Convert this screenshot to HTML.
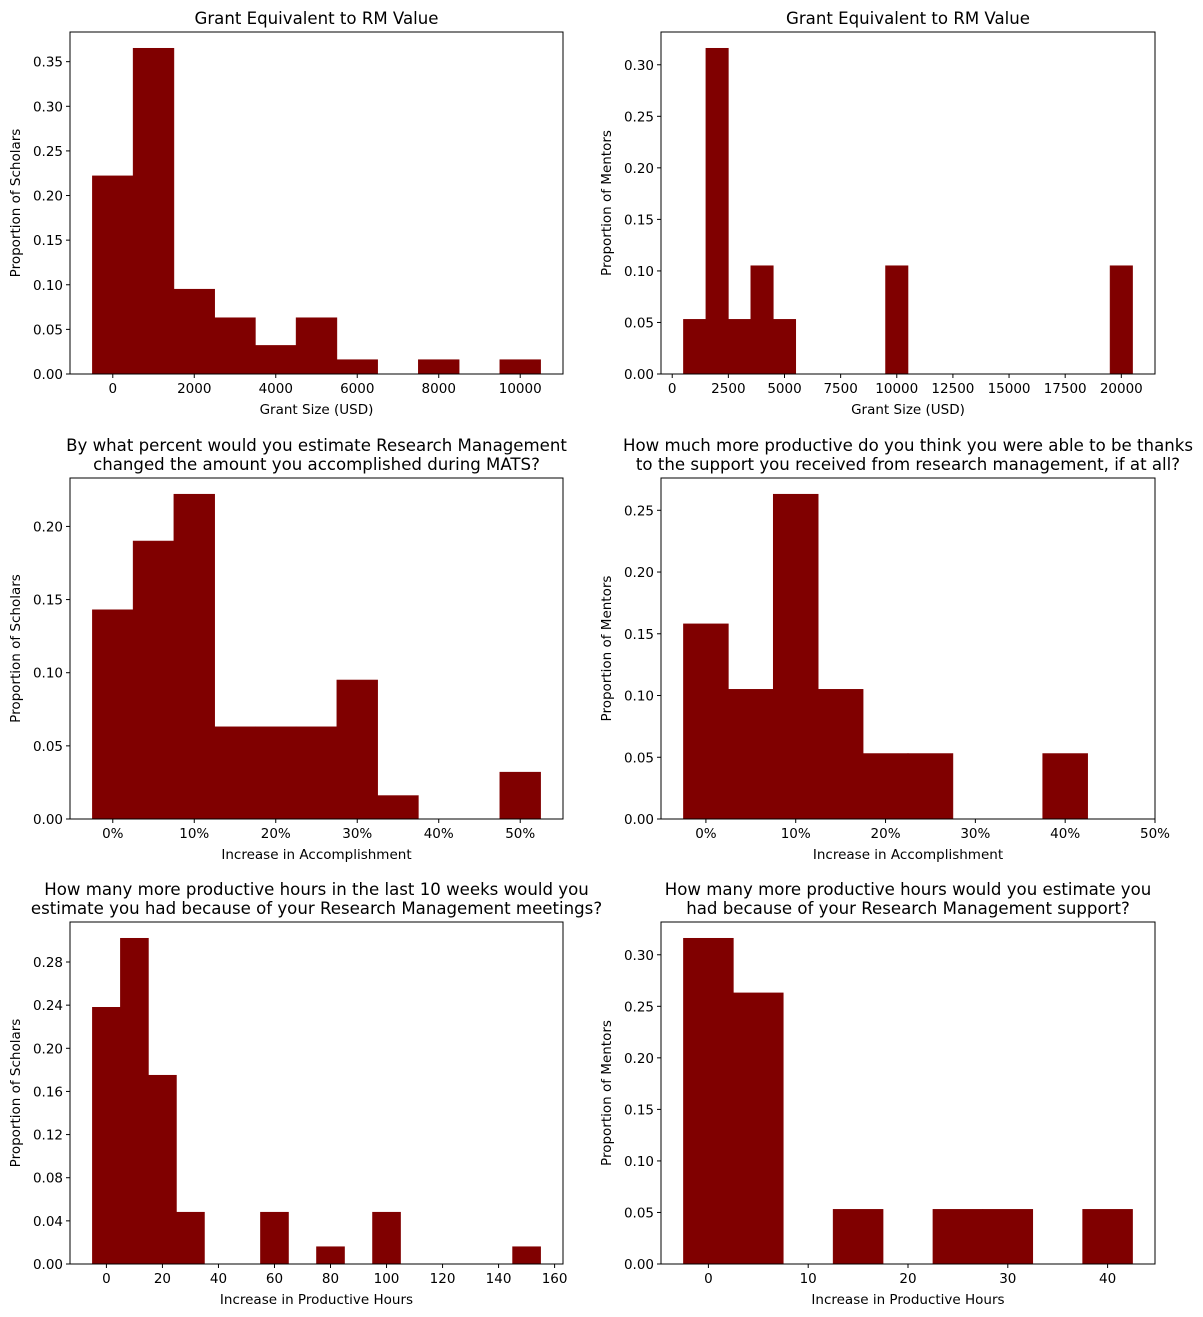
<!DOCTYPE html>
<html><head><meta charset="utf-8"><style>
body{margin:0;background:#fff}
svg{display:block;font-family:"DejaVu Sans","Liberation Sans",sans-serif}
</style></head><body>
<svg id="fig" width="1203" height="1317" viewBox="0 0 1203 1317" xmlns="http://www.w3.org/2000/svg"></svg>
<script>
// ---- data ----
const p1Edges0 = -500, p1Width = 1000;
const p1Values = [0.222,0.365,0.095,0.063,0.032,0.063,0.016,0,0.016,0,0.016];
const p1XTicks = [0,2000,4000,6000,8000,10000];
const p1YTicks = [0,0.05,0.10,0.15,0.20,0.25,0.30,0.35];

const p2Edges0 = 500, p2Width = 1000;
const p2Values = [0.053,0.316,0.053,0.105,0.053,0,0,0,0,0.105,0,0,0,0,0,0,0,0,0,0.105];
const p2XTicks = [0,2500,5000,7500,10000,12500,15000,17500,20000];
const p2YTicks = [0,0.05,0.10,0.15,0.20,0.25,0.30];

const p3Edges0 = -2.5, p3Width = 5;
const p3Values = [0.143,0.190,0.222,0.063,0.063,0.063,0.095,0.016,0,0,0.032];
const p3XTicks = [0,10,20,30,40,50];
const p3YTicks = [0,0.05,0.10,0.15,0.20];

const p4Edges0 = -2.5, p4Width = 5;
const p4Values = [0.158,0.105,0.263,0.105,0.053,0.053,0,0,0.053,0];
const p4XTicks = [0,10,20,30,40,50];
const p4YTicks = [0,0.05,0.10,0.15,0.20,0.25];

const p5Edges0 = -5, p5Width = 10;
const p5Values = [0.238,0.302,0.175,0.048,0,0,0.048,0,0.016,0,0.048,0,0,0,0,0.016];
const p5XTicks = [0,20,40,60,80,100,120,140,160];
const p5YTicks = [0,0.04,0.08,0.12,0.16,0.20,0.24,0.28];

const p6Edges0 = -2.5, p6Width = 5;
const p6Values = [0.316,0.263,0,0.053,0,0.053,0.053,0,0.053];
const p6XTicks = [0,10,20,30,40];
const p6YTicks = [0,0.05,0.10,0.15,0.20,0.25,0.30];

const NS="http://www.w3.org/2000/svg";
const svg=document.getElementById('fig');
function mk(tag,attrs,parent){const e=document.createElementNS(NS,tag);for(const k in attrs)e.setAttribute(k,attrs[k]);(parent||svg).appendChild(e);return e;}

function panel(o){
  const g=mk('g',{});
  
  
  const L=o.box[0],R=o.box[1],T=o.box[2],B=o.box[3];
  const n=o.values.length;
  const lo=o.e0, hi=o.e0+n*o.w, pad=(hi-lo)*0.05;
  const xmin=o.xlim?o.xlim[0]:lo-pad, xmax=o.xlim?o.xlim[1]:hi+pad;
  const ymax=Math.max(...o.values)*1.05;
  const sx=v=>L+(v-xmin)/(xmax-xmin)*(R-L);
  const sy=v=>B-v/ymax*(B-T);
  o.values.forEach((v,i)=>{
    if(v<=0)return;
    const x0=sx(o.e0+i*o.w),x1=sx(o.e0+(i+1)*o.w);
    const r=mk('rect',{x:x0,y:sy(v),width:x1-x0,height:B-sy(v),fill:'#800000',stroke:'#800000','stroke-width':0.6},g);
    
    
  });
  const fr=mk('rect',{x:L,y:T,width:R-L,height:B-T,fill:'none',stroke:'#000','stroke-width':1},g);
  
  
  o.xticks.forEach(t=>{
    const x=sx(t);
    mk('line',{x1:x,x2:x,y1:B,y2:B+4,stroke:'#000'},g);
    const tx=mk('text',{x:x,y:B+19,'font-size':13.5,'text-anchor':'middle',fill:'#000'},g);
    tx.textContent=o.pct?t+'%':String(t);
    
    
  });
  o.yticks.forEach(t=>{
    const y=sy(t);
    mk('line',{x1:L-4,x2:L,y1:y,y2:y,stroke:'#000'},g);
    const tx=mk('text',{x:L-7,y:y+5,'font-size':13.5,'text-anchor':'end',fill:'#000'},g);
    tx.textContent=t.toFixed(2);
    
    
  });
  const xl=mk('text',{x:(L+R)/2,y:B+40,'font-size':13.5,'text-anchor':'middle'},g);
  xl.textContent=o.xlabel;
  
  
  const yx=L-50, yy=(T+B)/2;
  const yl=mk('text',{x:yx,y:yy,'font-size':13.5,'text-anchor':'middle',transform:`rotate(-90 ${yx} ${yy})`},g);
  yl.textContent=o.ylabel;
  
  
  o.title.forEach((line,i)=>{
    const tt=mk('text',{x:(L+R)/2,y:T-8-(o.title.length-1-i)*19,'font-size':16.6,'text-anchor':'middle'},g);
    tt.textContent=line;
    
    
  });
}
const LB=[70,563], RB=[661,1155];
const R1=[32,374], R2=[478,819], R3=[922,1264];
panel({name:'scholar-grant-chart',box:[...LB,...R1],e0:p1Edges0,w:p1Width,values:p1Values,xticks:p1XTicks,yticks:p1YTicks,xlabel:'Grant Size (USD)',ylabel:'Proportion of Scholars',title:['Grant Equivalent to RM Value']});
panel({name:'mentor-grant-chart',box:[...RB,...R1],e0:p2Edges0,w:p2Width,values:p2Values,xticks:p2XTicks,yticks:p2YTicks,xlabel:'Grant Size (USD)',ylabel:'Proportion of Mentors',title:['Grant Equivalent to RM Value']});
panel({name:'scholar-accomplishment-chart',box:[...LB,...R2],e0:p3Edges0,w:p3Width,values:p3Values,xticks:p3XTicks,yticks:p3YTicks,pct:true,xlabel:'Increase in Accomplishment',ylabel:'Proportion of Scholars',title:['By what percent would you estimate Research Management','changed the amount you accomplished during MATS?']});
panel({name:'mentor-accomplishment-chart',box:[...RB,...R2],e0:p4Edges0,w:p4Width,values:p4Values,xticks:p4XTicks,yticks:p4YTicks,pct:true,xlim:[-5,50],xlabel:'Increase in Accomplishment',ylabel:'Proportion of Mentors',title:['How much more productive do you think you were able to be thanks','to the support you received from research management, if at all?']});
panel({name:'scholar-hours-chart',box:[...LB,...R3],e0:p5Edges0,w:p5Width,values:p5Values,xticks:p5XTicks,yticks:p5YTicks,xlabel:'Increase in Productive Hours',ylabel:'Proportion of Scholars',title:['How many more productive hours in the last 10 weeks would you','estimate you had because of your Research Management meetings?']});
panel({name:'mentor-hours-chart',box:[...RB,...R3],e0:p6Edges0,w:p6Width,values:p6Values,xticks:p6XTicks,yticks:p6YTicks,xlabel:'Increase in Productive Hours',ylabel:'Proportion of Mentors',title:['How many more productive hours would you estimate you','had because of your Research Management support?']});
</script>
</body></html>
